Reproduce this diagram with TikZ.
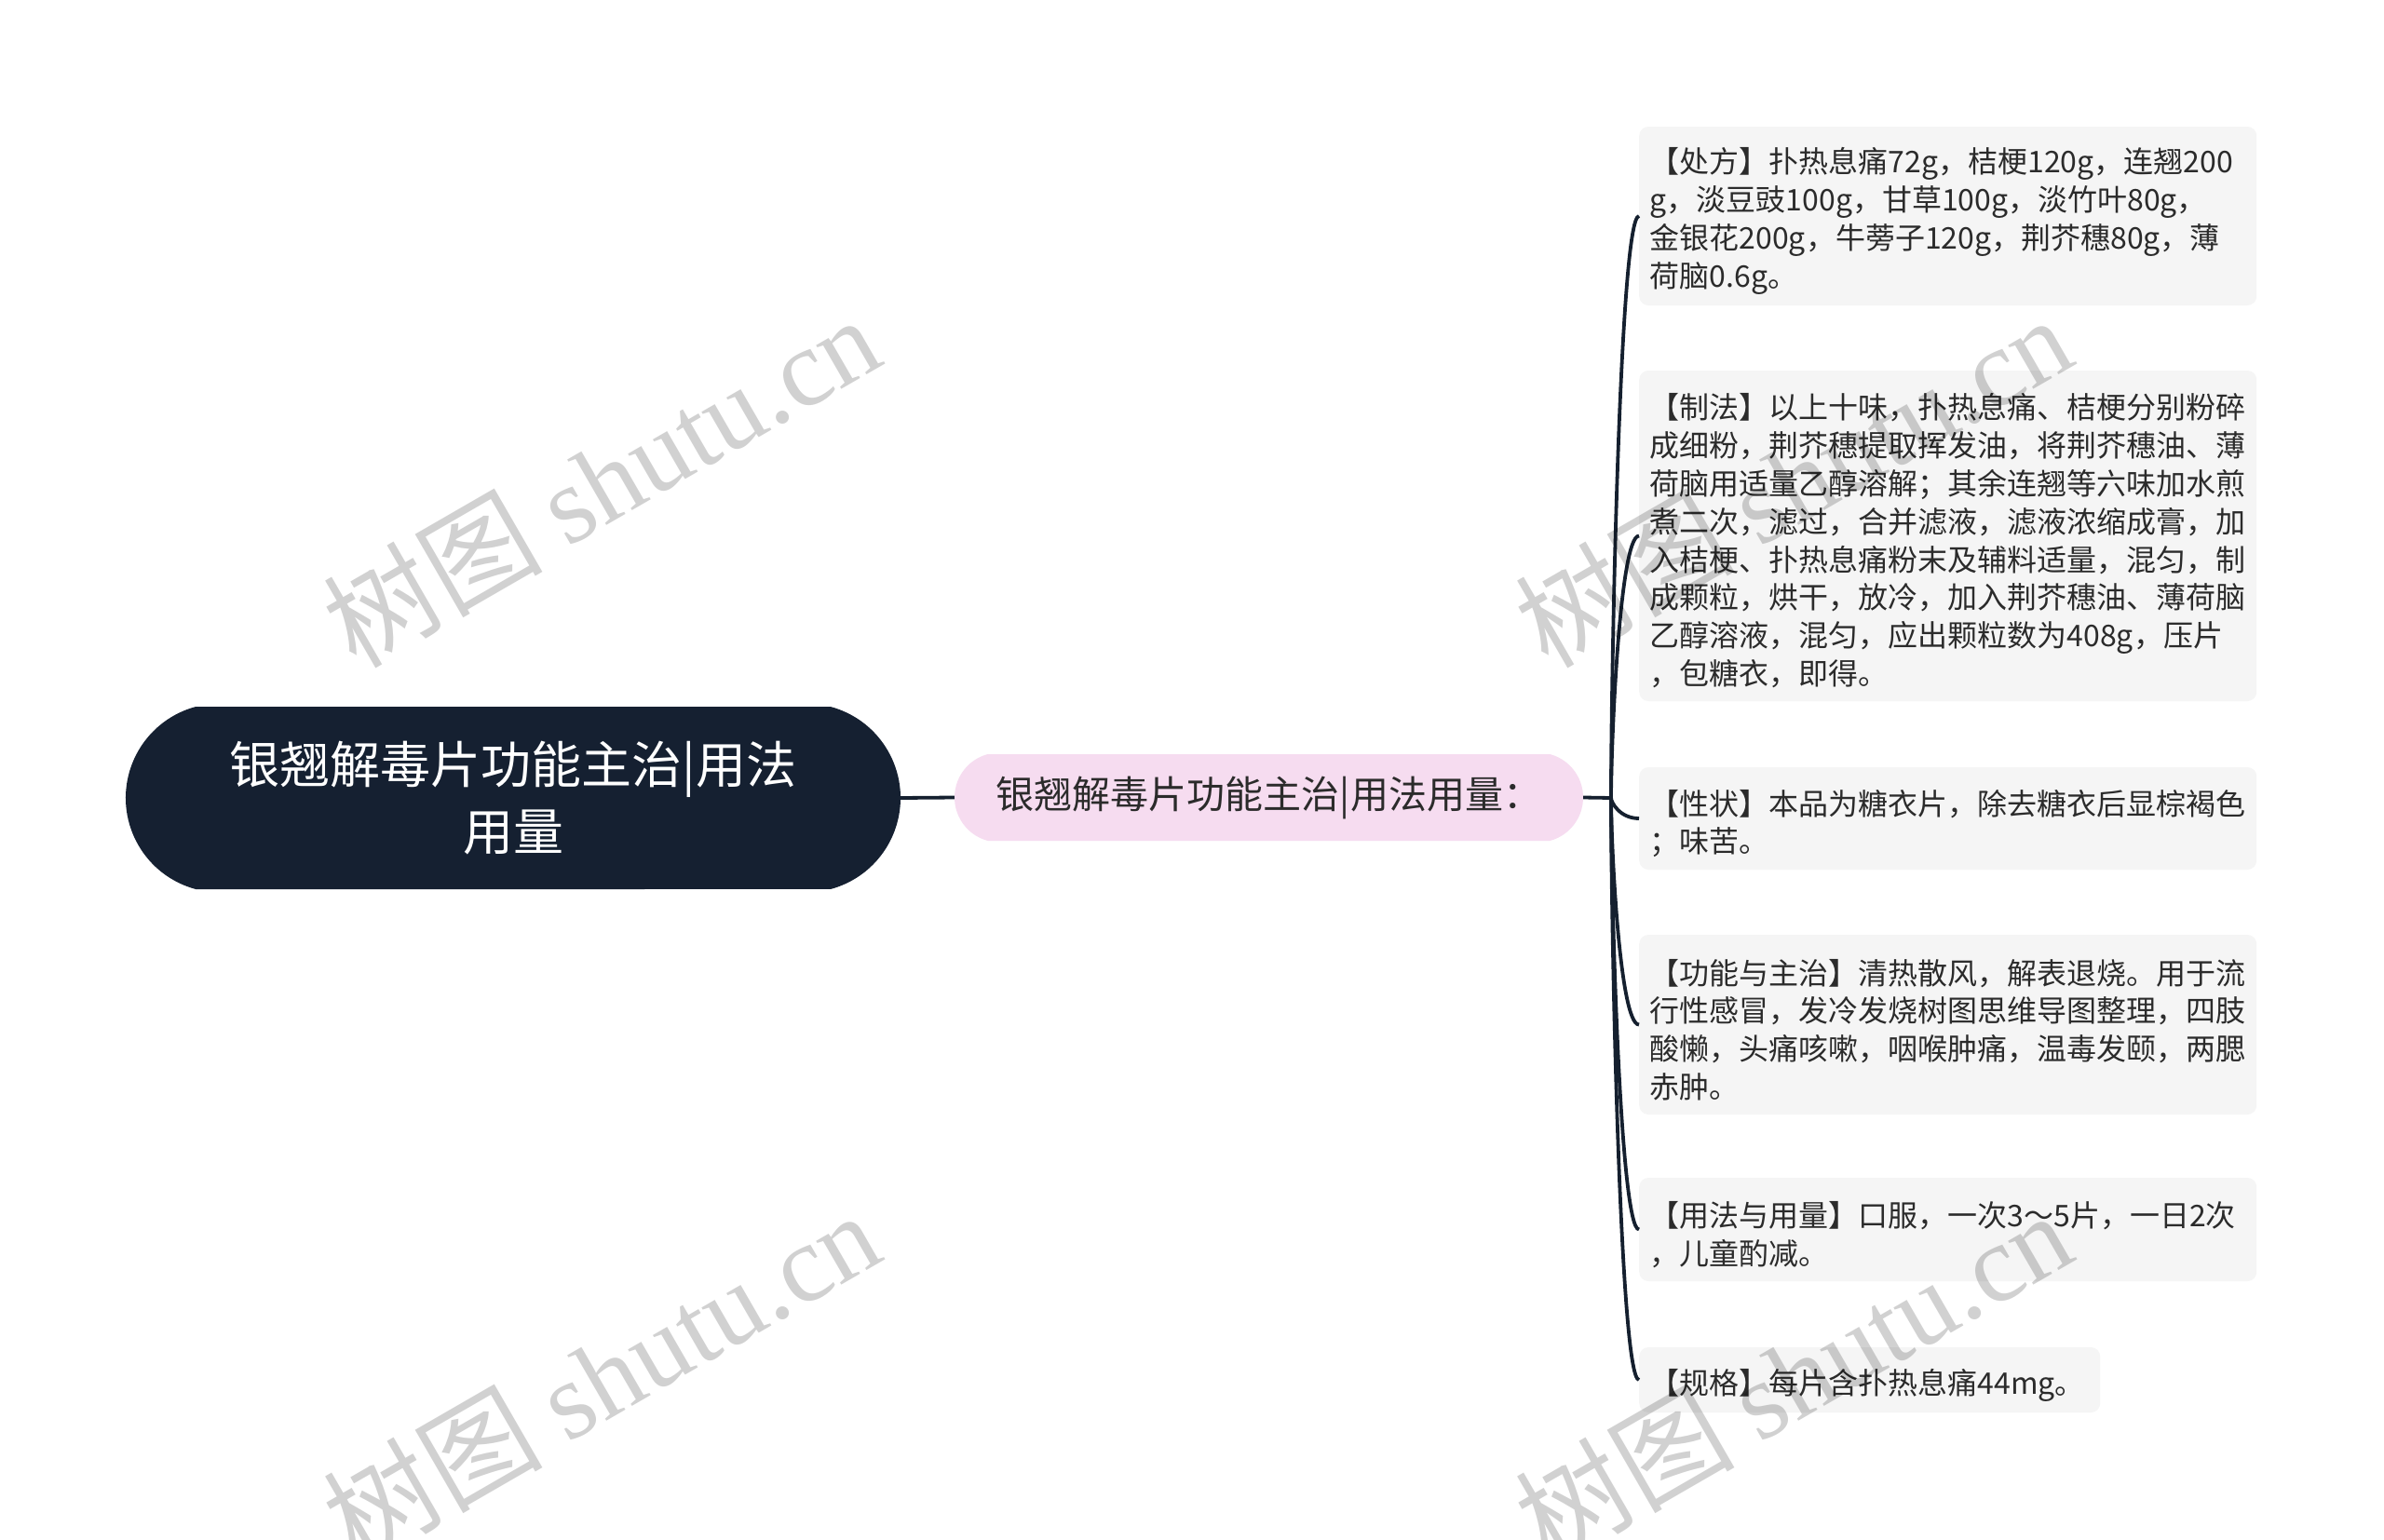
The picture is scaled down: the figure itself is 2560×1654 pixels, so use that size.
\documentclass[tikz,border=0pt]{standalone}
\usepackage{fontspec}
\setmainfont{Noto Sans CJK SC}
\newfontfamily\wmserif{Liberation Serif}
\usetikzlibrary{shapes.misc,calc}
\definecolor{rootfill}{HTML}{152031}
\definecolor{midfill}{HTML}{F6DCF0}
\definecolor{leaffill}{HTML}{F5F5F5}
\definecolor{linecol}{HTML}{15202F}
\definecolor{txt}{HTML}{2B2B2B}
\newcommand\topfix{\rule{0pt}{38pt}}
\begin{document}
\begin{tikzpicture}[x=1pt,y=-1pt,
  rootnode/.style={rounded rectangle, rounded rectangle arc length=150, fill=rootfill, text=white,
    minimum width=832pt, minimum height=196pt, inner sep=0pt, align=center,
    font=\fontsize{54}{72}\selectfont},
  midnode/.style={rounded rectangle, rounded rectangle arc length=150, fill=midfill, text=txt,
    minimum width=675pt, minimum height=93pt, inner sep=0pt,
    font=\fontsize{41}{47}\selectfont},
  leaf/.style={fill=leaffill, rounded corners=10pt, text=txt, anchor=west,
    inner xsep=11.5pt, inner ysep=0pt, align=left, text width=640pt,
    font=\fontsize{32}{40.8}\selectfont},
  conn/.style={draw=linecol, line width=3.8pt},
  wm/.style={rotate=30, text=black, text opacity=0.18, inner sep=0pt,
    font=\fontsize{118}{118}\selectfont}
]
\useasboundingbox (0,0) rectangle (2560,1654);
\fill[white] (0,0) rectangle (2560,1654);

\node[rootnode] (root) at (551,857) {银翘解毒片功能主治|用法\\用量};
\node[midnode] (mid) at (1362.5,856.5) {银翘解毒片功能主治|用法用量：};
\coordinate (hub) at (1730,857);

\node[leaf, minimum height=192pt] (L1) at (1760,232) {\topfix【处方】扑热息痛72g，桔梗120g，连翘200\\g，淡豆豉100g，甘草100g，淡竹叶80g，\\金银花200g，牛蒡子120g，荆芥穗80g，薄\\荷脑0.6g。};
\node[leaf, minimum height=355pt] (L2) at (1760,575.5) {\topfix【制法】以上十味，扑热息痛、桔梗分别粉碎\\成细粉，荆芥穗提取挥发油，将荆芥穗油、薄\\荷脑用适量乙醇溶解；其余连翘等六味加水煎\\煮二次，滤过，合并滤液，滤液浓缩成膏，加\\入桔梗、扑热息痛粉末及辅料适量，混匀，制\\成颗粒，烘干，放冷，加入荆芥穗油、薄荷脑\\乙醇溶液，混匀，应出颗粒数为408g，压片\\，包糖衣，即得。};
\node[leaf, minimum height=110pt] (L3) at (1760,879) {\topfix【性状】本品为糖衣片，除去糖衣后显棕褐色\\；味苦。};
\node[leaf, minimum height=193pt] (L4) at (1760,1100.5) {\topfix【功能与主治】清热散风，解表退烧。用于流\\行性感冒，发冷发烧树图思维导图整理，四肢\\酸懒，头痛咳嗽，咽喉肿痛，温毒发颐，两腮\\赤肿。};
\node[leaf, minimum height=111pt] (L5) at (1760,1320.5) {\topfix【用法与用量】口服，一次3～5片，一日2次\\，儿童酌减。};
\node[leaf, minimum height=70pt, text width=472pt] (L6) at (1760,1482) {\topfix【规格】每片含扑热息痛44mg。};

\draw[conn] (root.east) -- (mid.west);
\draw[conn] (mid.east) -- (hub);
\foreach \n in {L1,L2,L3,L4,L5,L6}
  \draw[conn] (hub) .. controls ($(hub)!0.2!(hub |- \n.west)$) and ($(hub |- \n.west)!0.3!(\n.west)$) .. (\n.west);

\node[wm] (wm1) at (645,516) {树图 {\wmserif shutu.cn}};
\node[wm] (wm2) at (1925,516) {树图 {\wmserif shutu.cn}};
\node[wm] (wm3) at (645,1478) {树图 {\wmserif shutu.cn}};
\node[wm] (wm4) at (1925,1478) {树图 {\wmserif shutu.cn}};
\end{tikzpicture}
\end{document}
